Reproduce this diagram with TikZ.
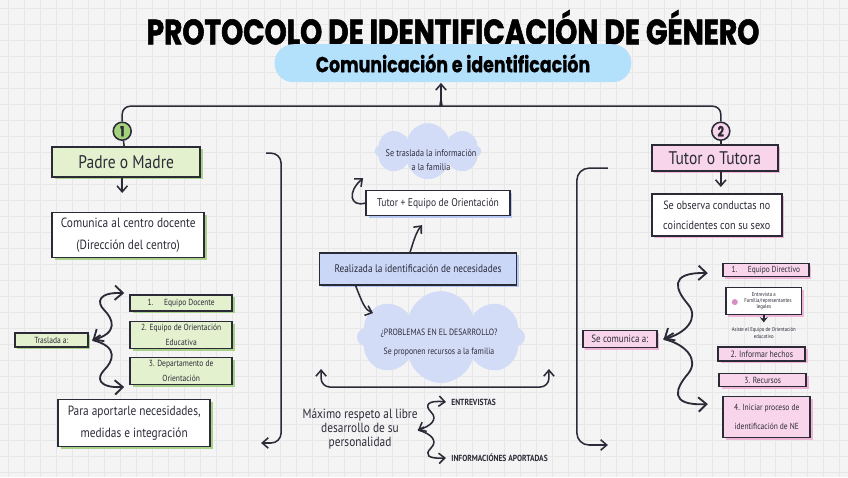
\documentclass[tikz,border=0pt]{standalone}
\usepackage{fontspec}
\setmainfont{PT Sans}[FakeStretch=0.85]
\newfontfamily\titlefont{Poppins}[FakeStretch=0.8, FakeBold=1.6]
\newfontfamily\subfont{Poppins}[FakeStretch=0.8, FakeBold=0.8]
\usetikzlibrary{arrows.meta, shapes.symbols, shadows, calc}
\definecolor{ink}{HTML}{2B2B38}
\definecolor{bgc}{HTML}{F4F4F4}
\definecolor{gridc}{HTML}{E7E7E7}
\definecolor{pillc}{HTML}{B3E0FB}
\definecolor{gfill}{HTML}{E3F1CE}
\definecolor{gshad}{HTML}{A9D189}
\definecolor{gcirc}{HTML}{A5D37B}
\definecolor{pfill}{HTML}{F8D5EA}
\definecolor{pshad}{HTML}{F0B4D6}
\definecolor{bfill}{HTML}{CAD7F7}
\definecolor{bshad}{HTML}{B7C8F3}
\definecolor{cloudc}{HTML}{D3DCF7}
\definecolor{dotc}{HTML}{D98CC0}
\tikzset{
  every picture/.style={line width=1pt},
  sz/.style 2 args={minimum width=#1*0.025cm, minimum height=#2*0.025cm},
  box/.style={draw=ink, fill=#1, line width=1.2pt, align=center, inner sep=1pt, text=ink},
  box/.default=white,
  gshade/.style={drop shadow={shadow xshift=1.8pt, shadow yshift=-1.5pt, fill=gshad, opacity=1}},
  pshade/.style={drop shadow={shadow xshift=1.8pt, shadow yshift=-1.5pt, fill=pshad, opacity=1}},
  bshade/.style={drop shadow={shadow xshift=1.8pt, shadow yshift=-1.5pt, fill=bshad, opacity=1}},
  circ/.style={circle, draw=ink, fill=#1, line width=1.1pt, minimum size=18*0.025cm, inner sep=0pt,
    font=\subfont\bfseries\fontsize{10}{10}\selectfont, text=ink},
  cloudy/.style={cloud, cloud puffs=8, cloud ignores aspect, fill=cloudc, draw=none, inner sep=0pt},
  cloudtxt/.style={align=center, text=ink, inner sep=0pt},
  line/.style={draw=ink, line width=1.1pt},
  arrow/.style={-{Straight Barb[length=1.5mm, width=2.6mm]}, draw=ink, line width=1.1pt},
  twoway/.style={{Straight Barb[length=1.5mm, width=2.6mm]}-{Straight Barb[length=1.5mm, width=2.6mm]}, draw=ink, line width=1.1pt},
  curly/.style={-{Straight Barb[length=2mm, width=3.6mm]}, draw=ink, line width=1.3pt},
  bigtxt/.style={font=\fontsize{13}{15}\selectfont},
  midtxt/.style={font=\fontsize{9.5}{15.5}\selectfont},
  smalltxt/.style={font=\fontsize{8}{11}\selectfont},
  tinytxt/.style={font=\fontsize{6.3}{10.5}\selectfont},
  microtxt/.style={font=\fontsize{4}{4.6}\selectfont},
  capstxt/.style={font=\bfseries\fontsize{6.3}{7}\selectfont, text=ink},
}

\begin{document}
\begin{tikzpicture}[x=0.025cm, y=-0.025cm]
  % ---------- paper with grid ----------
  \fill[bgc] (0,0) rectangle (848,477);
  \foreach \gx in {8,24,...,848} \draw[gridc, line width=0.4pt] (\gx,0) -- (\gx,477);
  \foreach \gy in {8,24,...,477} \draw[gridc, line width=0.4pt] (0,\gy) -- (848,\gy);
  \useasboundingbox (0,0) rectangle (848,477);

  % ---------- title ----------
  \node[text=black, font=\titlefont\bfseries\fontsize{25}{27}\selectfont] (title) at (453,27)
    {PROTOCOLO DE IDENTIFICACIÓN DE GÉNERO};
  \node[fill=pillc, rounded corners=0.47cm, sz={357}{38}, text=black,
    font=\subfont\bfseries\fontsize{15.5}{17}\selectfont] (sub) at (453,63) {Comunicación e identificación};

  \node[circ=gcirc] (c1) at (122,131) {1};
  \node[circ=pfill] (c2) at (721,131) {2};
  \coordinate (cusp) at (441,97);
  \draw[line, rounded corners=0.2cm] (c1.north) |- (433,106) .. controls (439,106) and (441,103) .. (cusp);
  \draw[line, rounded corners=0.2cm] (c2.north) |- (449,106) .. controls (443,106) and (441,103) .. (cusp);
  \draw[arrow] (cusp) -- (cusp |- sub.south);

  % ---------- (1) Padre o Madre ----------
  \node[box=gfill, gshade, sz={148}{30}, bigtxt] (padre) at (126,162) {Padre o Madre};
  \draw[line] (c1) -- (padre);
  \draw[arrow] (padre.south -| c1) -- +(0,15);
  \node[box, gshade, sz={152}{45}, midtxt] (comunica) at (128,235) {Comunica al centro docente\\ (Dirección del centro)};
  \node[box=gfill, gshade, sz={73}{14}, tinytxt] (traslada) at (51,340) {Traslada a:};
  \node[box=gfill, gshade, sz={102}{16}, tinytxt] (eqdoc) at (181,303) {1.\quad\ Equipo Docente};
  \node[box=gfill, gshade, sz={102}{27}, tinytxt] (eqori) at (181,335) {2. Equipo de Orientación\\ Educativa};
  \node[box=gfill, gshade, sz={102}{27}, tinytxt] (depori) at (181,371) {3. Departamento de\\ Orientación};
  \node[box, gshade, sz={152}{47}, midtxt] (aportar) at (134,423) {Para aportarle necesidades,\\ medidas e integración};
  \coordinate (tcusp) at ($(traslada.east)+(4,0)$);
  \draw[curly] (tcusp) .. controls (120,333) and (112,318) .. (104,310) .. controls (96,302) and (98,292) .. (124,293);
  \draw[curly] (tcusp) .. controls (120,347) and (112,362) .. (104,370) .. controls (96,378) and (98,388) .. (124,387);
  \draw[curly] (tcusp) ++(8,-5) -- (tcusp);
  \coordinate (lbt) at (266,153);
  \coordinate (lbb) at (261,443);
  \draw[arrow, rounded corners=0.25cm] (lbt) -- (281,153) -- (281,443) -- (lbb);

  % ---------- centre ----------
  \node[cloudy, sz={107}{56}] (cloud1) at (428,151) {};
  \node[cloudtxt, font=\fontsize{6.8}{9.5}\selectfont] (cloud1txt) at (431,160)
    {Se traslada la información\\ a la familia};
  \node[box, bshade, sz={144}{25}, smalltxt] (tutoreq) at (438,203) {Tutor + Equipo de Orientación};
  \node[box=bfill, bshade, sz={197}{32}, font=\fontsize{7.8}{9}\selectfont] (realizada) at (418,269)
    {Realizada la identificación de necesidades};
  \node[cloudy, sz={168}{92}] (cloud2) at (441,337) {};
  \node[cloudtxt, font=\fontsize{6.5}{13.5}\selectfont] (cloud2txt) at (439,343)
    {¿PROBLEMAS EN EL DESARROLLO?\\ Se proponen recursos a la familia};
  \coordinate (up1) at (363,178);
  \draw[arrow] (tutoreq.west) .. controls (350,207) and (347,192) .. (up1);
  \coordinate (up2) at (422,225);
  \draw[arrow] ([xshift=-8*0.025cm]realizada.north) .. controls (414,240) and (416,232) .. (up2);
  \coordinate (dn1) at (373,313);
  \draw[arrow] ([xshift=37*0.025cm]realizada.south west) .. controls (362,302) and (365,310) .. (dn1);
  \coordinate (b2l) at (321,369);
  \coordinate (b2r) at (549,369);
  \draw[twoway, rounded corners=0.22cm] (b2l) -- (321,387) -- (549,387) -- (b2r);

  \node[text=ink, align=center, font=\fontsize{9.5}{10}\selectfont] (maximo) at (360,429)
    {Máximo respeto al libre\\ desarrollo de su\\ personalidad};
  \node[capstxt, anchor=west] (entrev) at (446,402) {ENTREVISTAS};
  \node[capstxt, anchor=west] (inform) at (446,458) {INFORMACIÓNES APORTADAS};
  \coordinate (mcusp) at (418,430);
  \draw[arrow] (mcusp) .. controls (432,426) and (438,419) .. (431,412) .. controls (424,405) and (428,400) .. (entrev.west);
  \draw[arrow] (mcusp) .. controls (432,434) and (438,441) .. (431,448) .. controls (424,455) and (428,459) .. (inform.west);
  \draw[arrow] (mcusp) ++(6,-3) -- (mcusp);

  % ---------- (2) Tutor o Tutora ----------
  \node[box=pfill, pshade, sz={126}{26}, bigtxt] (tutor) at (715,158) {Tutor o Tutora};
  \draw[line] (c2) -- (c2 |- tutor.north);
  \draw[arrow] (tutor.south -| c2) -- +(0,15);
  \node[box, pshade, sz={130}{42}, font=\fontsize{8.5}{14}\selectfont] (observa) at (717,215)
    {Se observa conductas no\\ coincidentes con su sexo};
  \coordinate (rbt) at (608,168);
  \coordinate (rbb) at (608,445);
  \draw[arrow, rounded corners=0.3cm] (rbt) -- (577,168) -- (577,445) -- (rbb);
  \node[box=pfill, pshade, sz={74}{17}, font=\fontsize{7.5}{8}\selectfont] (secom) at (620,339) {Se comunica a:};
  \node[box=pfill, pshade, sz={86}{13}, font=\fontsize{6.2}{7}\selectfont] (eqdir) at (766,270) {1.\quad\ Equipo Directivo};
  \node[box, pshade, sz={76}{27}, microtxt, line width=1pt] (entrevista) at (764,301)
    {Entrevista a\\ \hspace*{6pt}Familia/representantes\\ legales};
  \node[circle, fill=dotc, minimum size=6*0.025cm, inner sep=0pt] (pdot) at (735,302) {};
  \node[microtxt, text=ink, align=center] (asiste) at (764,333) {Asiste el Equipo de Orientación\\ educativo};
  \draw[-{Stealth[length=1.3mm, width=2mm]}, draw=ink, line width=1.3pt] (entrevista.south) -- (asiste.north);
  \node[box=pfill, pshade, sz={87}{14}, font=\fontsize{6.5}{7}\selectfont] (informar) at (762,354) {2. Informar hechos};
  \node[box=pfill, pshade, sz={87}{13}, font=\fontsize{6.3}{7}\selectfont] (recursos) at (763,380) {3. Recursos};
  \node[box=pfill, pshade, sz={87}{41}, font=\fontsize{6.3}{13}\selectfont] (iniciar) at (767,417)
    {4. Iniciar proceso de\\ identificación de NE};
  \coordinate (scusp) at ($(secom.east)+(6,0)$);
  \coordinate (rt) at (708,273);
  \coordinate (rb) at (708,404);
  \draw[curly] (scusp) .. controls (686,334) and (700,318) .. (688,304) .. controls (676,290) and (668,272) .. (rt);
  \draw[curly] (scusp) .. controls (686,344) and (700,360) .. (688,374) .. controls (676,388) and (668,406) .. (rb);
  \draw[curly] (scusp) ++(10,-6) -- (scusp);
\end{tikzpicture}
\end{document}
